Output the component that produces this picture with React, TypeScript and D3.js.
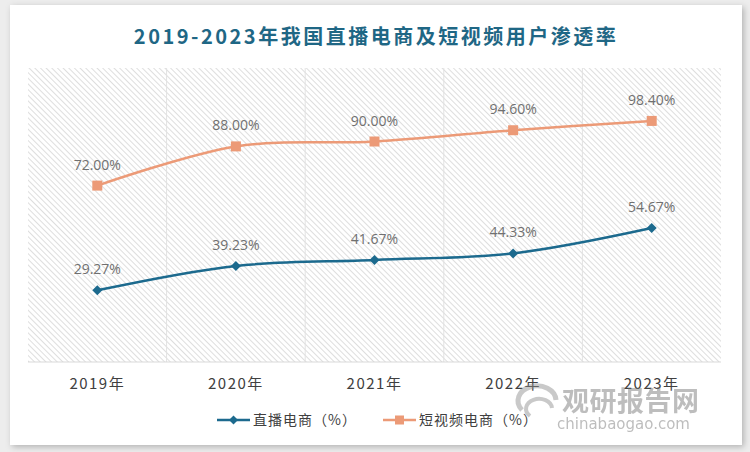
import { useEffect, useRef } from "react";
import * as d3 from "d3";

const years = ["2019年", "2020年", "2021年", "2022年", "2023年"];
const liveCommerce = [29.27, 39.23, 41.67, 44.33, 54.67];
const shortVideoCommerce = [72.0, 88.0, 90.0, 94.6, 98.4];
const seriesNames = ["直播电商（%）", "短视频电商（%）"];
const colors = ["#1c6a8e", "#ec9a77"];

const W = 750;
const H = 452;
const plot = { left: 28, right: 721, top: 68, bottom: 362 };

export default function App() {
  const gRef = useRef<SVGGElement>(null);

  useEffect(() => {
    if (!gRef.current) return;
    const g = d3.select(gRef.current);
    g.selectAll("*").remove();

    const x = d3.scaleBand().domain(years).range([plot.left, plot.right]);
    const y = d3.scaleLinear().domain([0, 120]).range([plot.bottom, plot.top]);
    const cx = (d: string) => (x(d) as number) + x.bandwidth() / 2;

    // hatched plot area
    g.append("rect")
      .attr("x", plot.left)
      .attr("y", plot.top)
      .attr("width", plot.right - plot.left)
      .attr("height", plot.bottom - plot.top)
      .attr("fill", "url(#hatch)");

    // vertical category separators
    g.selectAll("line.sep")
      .data(years.slice(1))
      .join("line")
      .attr("class", "sep")
      .attr("x1", (d) => x(d) as number)
      .attr("x2", (d) => x(d) as number)
      .attr("y1", plot.top)
      .attr("y2", plot.bottom)
      .attr("stroke", "#e2e2e2")
      .attr("stroke-width", 1);

    // baseline
    g.append("line")
      .attr("x1", plot.left)
      .attr("x2", plot.right)
      .attr("y1", plot.bottom)
      .attr("y2", plot.bottom)
      .attr("stroke", "#d9d9d9")
      .attr("stroke-width", 1);

    // x labels
    g.selectAll("text.xl")
      .data(years)
      .join("text")
      .attr("class", "xl")
      .attr("x", (d) => cx(d))
      .attr("y", 389)
      .attr("text-anchor", "middle")
      .attr("font-size", 15)
      .attr("letter-spacing", 1.5)
      .attr("fill", "#404040")
      .attr("font-family", "'Noto Sans CJK SC', 'Noto Sans', sans-serif")
      .text((d) => d);

    const line = d3
      .line<number>()
      .x((_, i) => cx(years[i]))
      .y((d) => y(d))
      .curve(d3.curveCatmullRom.alpha(0.5));

    const all = [liveCommerce, shortVideoCommerce];
    all.forEach((vals, si) => {
      g.append("path")
        .attr("d", line(vals))
        .attr("fill", "none")
        .attr("stroke", colors[si])
        .attr("stroke-width", 2.5);

      const pts = g
        .selectAll(`g.pt${si}`)
        .data(vals)
        .join("g")
        .attr("class", `pt${si}`)
        .attr("transform", (d, i) => `translate(${cx(years[i])},${y(d)})`);

      if (si === 0) {
        pts.append("path").attr("d", "M0,-5L5,0L0,5L-5,0Z").attr("fill", colors[si]);
      } else {
        pts.append("rect").attr("x", -5).attr("y", -5).attr("width", 10).attr("height", 10).attr("fill", colors[si]);
      }

      pts
        .append("text")
        .attr("y", -16)
        .attr("text-anchor", "middle")
        .attr("font-size", 14)
        .attr("fill", "#707070")
        .attr("font-family", "'Open Sans', 'Noto Sans', sans-serif")
        .text((d) => d.toFixed(2) + "%");
    });

    // legend
    const leg = g
      .selectAll("g.leg")
      .data(seriesNames)
      .join("g")
      .attr("class", "leg")
      .attr("transform", (_, i) => `translate(${[217, 383][i]},420)`);
    leg
      .append("line")
      .attr("x1", 0)
      .attr("x2", 33)
      .attr("stroke", (_, i) => colors[i])
      .attr("stroke-width", 2.5);
    leg.each(function (_, i) {
      const s = d3.select(this);
      if (i === 0) s.append("path").attr("d", "M16.5,-4.5L21,0L16.5,4.5L12,0Z").attr("fill", colors[i]);
      else s.append("rect").attr("x", 12).attr("y", -4.5).attr("width", 9).attr("height", 9).attr("fill", colors[i]);
    });
    leg
      .append("text")
      .attr("x", 36)
      .attr("y", 5)
      .attr("font-size", 14)
      .attr("letter-spacing", 1)
      .attr("fill", "#404040")
      .attr("font-family", "'Noto Sans CJK SC', sans-serif")
      .text((d) => d);
  }, []);

  return (
    <svg width={W} height={H} style={{ position: "absolute", left: 0, top: 0 }}>
      <defs>
        <pattern id="hatch" width="4" height="4" patternUnits="userSpaceOnUse" patternTransform="rotate(-45)">
          <rect width="4" height="4" fill="#ffffff" />
          <line x1="0" y1="0" x2="0" y2="4" stroke="#d6d6d6" strokeWidth="1.6" />
        </pattern>
        <filter id="shadow" x="-5%" y="-5%" width="110%" height="110%">
          <feDropShadow dx="2" dy="2" stdDeviation="3" floodColor="#000" floodOpacity="0.25" />
        </filter>
      </defs>
      <rect width={W} height={H} fill="#ededed" />
      <rect x={10} y={5} width={732} height={440} fill="#ffffff" filter="url(#shadow)" />
      <text
        x={376}
        y={44}
        textAnchor="middle"
        fontSize={20}
        fontWeight="bold"
        letterSpacing={2.5}
        fill="#1f6785"
        fontFamily="'Noto Sans CJK SC', sans-serif"
      >
        2019-2023年我国直播电商及短视频用户渗透率
      </text>
      <g ref={gRef} />
      <g opacity={0.45} fontFamily="'Noto Sans CJK SC', sans-serif">
        <path d="M522,410 a19,15 0 1,1 34,-10" fill="none" stroke="#8a8a8a" strokeWidth={5} />
        <path d="M530,416 a13,10 0 1,1 22,-8" fill="none" stroke="#8a8a8a" strokeWidth={4} />
        <text x={562} y={411} fontSize={27} fontWeight="bold" fill="#6e6e6e" letterSpacing={0.5}>
          观研报告网
        </text>
        <text x={557} y={429} fontSize={15} fill="#6e6e6e" fontFamily="'DejaVu Sans', sans-serif">
          chinabaogao.com
        </text>
      </g>
    </svg>
  );
}
